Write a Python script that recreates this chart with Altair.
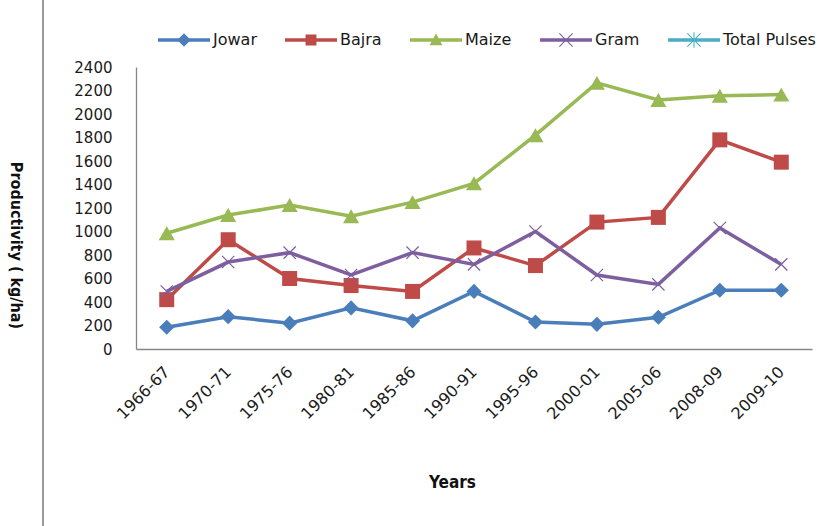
import altair as alt
import pandas as pd

# Crop productivity by period (kg/ha)
years = ["1966-67", "1970-71", "1975-76", "1980-81", "1985-86", "1990-91",
         "1995-96", "2000-01", "2005-06", "2008-09", "2009-10"]
jowar = [185, 275, 220, 350, 240, 490, 230, 210, 270, 500, 500]
bajra = [420, 930, 600, 540, 490, 860, 710, 1080, 1120, 1780, 1590]
maize = [985, 1140, 1225, 1130, 1250, 1410, 1820, 2265, 2120, 2155, 2165]
gram = [490, 740, 820, 630, 820, 720, 1000, 630, 550, 1030, 720]
total_pulses = []
y_ticks = [0, 200, 400, 600, 800, 1000, 1200, 1400, 1600, 1800, 2000, 2200, 2400]

series_names = ["Jowar", "Bajra", "Maize", "Gram", "Total Pulses"]
series_values = [jowar, bajra, maize, gram, total_pulses]
colors = ["#4A7EBB", "#BE4B48", "#98B954", "#7D5FA0", "#4BACC6"]

rows = []
for name, vals in zip(series_names, series_values):
    for yr, v in zip(years, vals):
        rows.append({"Year": yr, "Series": name, "Value": v})
df = pd.DataFrame(rows)
legend_df = pd.DataFrame({"Series": series_names})

# marker shapes in the plot
x_path = "M-1,-1L1,1M-1,1L1,-1"
star_path = "M-1,-1L1,1M-1,1L1,-1M0,-1.2L0,1.2"
marker_specs = {
    "Jowar": dict(shape="diamond", filled=True, size=230),
    "Bajra": dict(shape="square", filled=True, size=225),
    "Maize": dict(shape="triangle-up", filled=True, size=260),
    "Gram": dict(shape=x_path, filled=False, size=150, strokeWidth=1.2),
    "Total Pulses": dict(shape=star_path, filled=False, size=150, strokeWidth=1.2),
}

# legend symbols: a short line with the marker on top (unit space [-1, 1])
bar = "M-1,-0.07H1V0.07H-1Z"
cross = ("M-0.27,-0.24L-0.24,-0.27L0.27,0.24L0.24,0.27Z"
         "M0.27,-0.24L-0.24,0.27L-0.27,0.24L0.24,-0.27Z")
legend_paths = [
    bar + "M0,-0.26L0.26,0L0,0.26L-0.26,0Z",
    bar + "M-0.21,-0.21H0.21V0.21H-0.21Z",
    bar + "M0,-0.25L0.25,0.2H-0.25Z",
    bar + cross,
    bar + cross + "M-0.02,-0.3H0.02V0.3H-0.02Z",
]

label_font = "DejaVu Sans"
title_font = "DejaVu Sans Condensed, Liberation Sans Narrow, sans-serif"

x_axis = alt.Axis(
    title="Years", labelAngle=-45, labelAlign="right", labelBaseline="middle",
    labelPadding=20, ticks=False, grid=False,
    domainColor="#868686", domainWidth=1.3,
    labelFont=label_font, labelFontSize=16, labelColor="#1a1a1a",
    titleFont=title_font, titleFontSize=17, titleFontWeight="bold",
    titleColor="#111111", titleX=316, titleY=133, titleBaseline="middle",
    titleAlign="center",
)
y_axis = alt.Axis(
    title="Productivity ( kg/ha)", values=y_ticks, format="d",
    labelOverlap=False, ticks=False, grid=False, labelPadding=24,
    domainColor="#868686", domainWidth=1.3,
    labelFont=label_font, labelFontSize=15, labelColor="#1a1a1a",
    titleFont=title_font, titleFontSize=16, titleFontWeight="bold",
    titleColor="#111111", titleAngle=90, titleX=-121, titleY=178,
    titleBaseline="middle", titleAlign="center",
)
x_enc = alt.X("Year:N", sort=years, scale=alt.Scale(domain=years), axis=x_axis)
y_enc = alt.Y("Value:Q", scale=alt.Scale(domain=[0, 2400]), axis=y_axis)

layers = []
# left frame edge of the figure
layers.append(
    alt.Chart(df).mark_rule(color="#9a9a9a", strokeWidth=1.3).encode(
        x=alt.value(-93), y=alt.value(-67), y2=alt.value(459)
    )
)

for name, col in zip(series_names, colors):
    sub = alt.Chart(df).transform_filter(alt.datum.Series == name)
    layers.append(
        sub.mark_line(strokeWidth=3.5, color=col).encode(x=x_enc, y=y_enc)
    )
for name, col in zip(series_names, colors):
    sub = alt.Chart(df).transform_filter(alt.datum.Series == name)
    layers.append(
        sub.mark_point(opacity=1, color=col, **marker_specs[name]).encode(
            x=x_enc, y=y_enc
        )
    )

legend_layer = (
    alt.Chart(legend_df)
    .transform_filter("false")
    .mark_point(filled=True, strokeWidth=0)
    .encode(
        color=alt.Color("Series:N", scale=alt.Scale(domain=series_names, range=colors),
                        sort=series_names, title=None),
        shape=alt.Shape("Series:N", scale=alt.Scale(domain=series_names, range=legend_paths),
                        sort=series_names, title=None),
    )
)
layers.append(legend_layer)

chart = (
    alt.layer(*layers)
    .properties(
        width=676, height=282,
        autosize=alt.AutoSizeParams(type="none"),
        padding={"left": 136, "top": 67, "right": 24, "bottom": 177},
        background="white",
    )
    .configure_view(stroke=None)
    .configure_axisY(labelOverlap=False)
    .configure_legend(
        orient="none", legendX=22, legendY=-53, direction="horizontal",
        symbolSize=2704, symbolStrokeWidth=0, labelOffset=3, columnPadding=28,
        labelFont=label_font, labelFontSize=16, labelColor="#1a1a1a", padding=0,
        symbolOpacity=1,
    )
)

chart.save("out.html", embed_options={"renderer": "svg", "actions": False})
